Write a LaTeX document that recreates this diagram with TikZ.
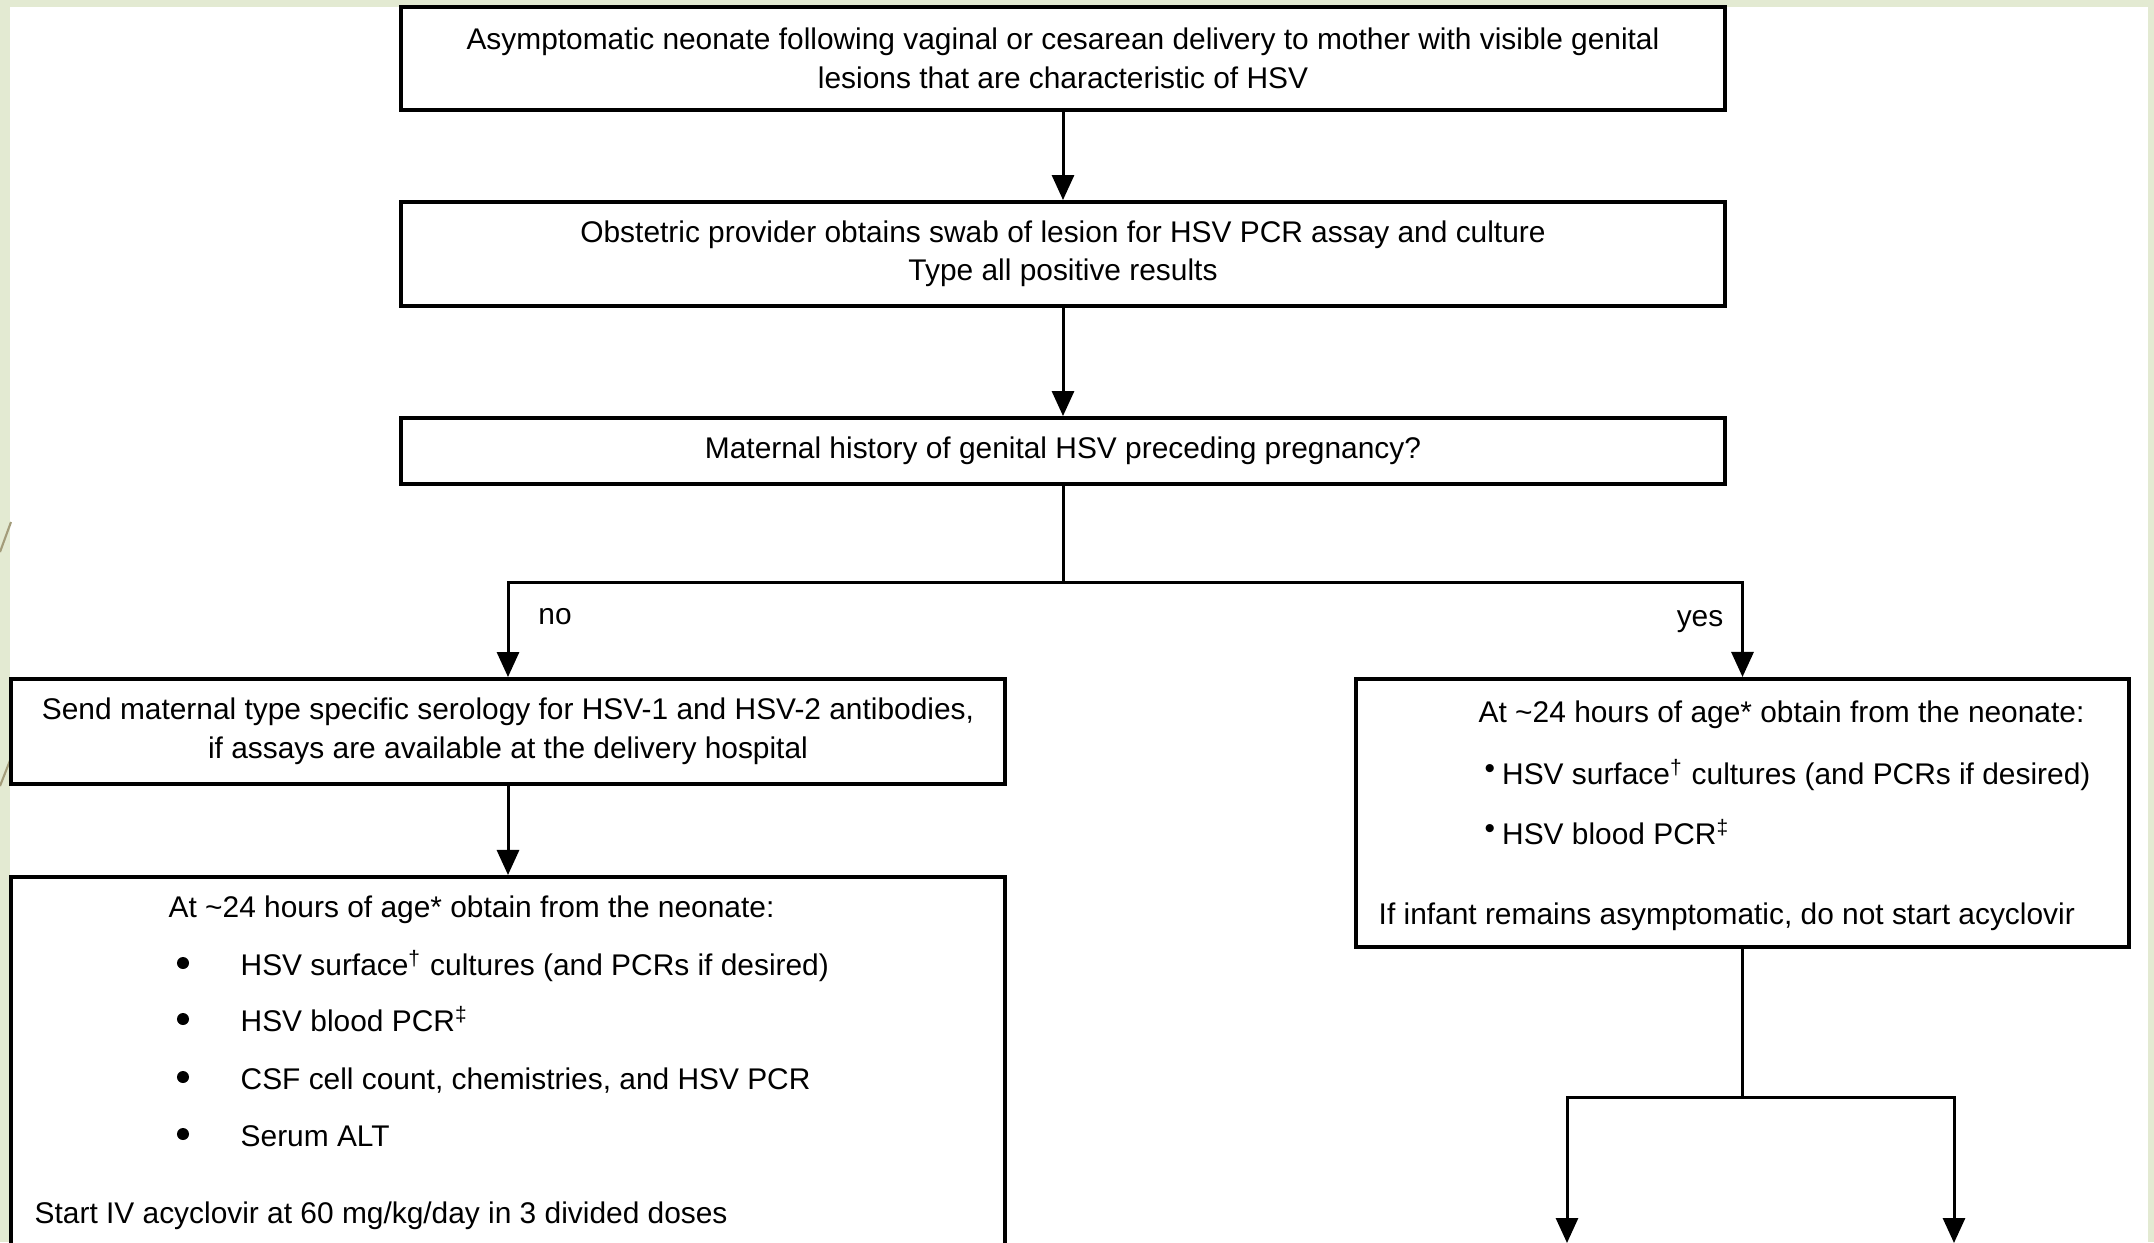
\documentclass[tikz,border=0pt]{standalone}
\usepackage{fontspec}
\setmainfont{Liberation Sans}
\usetikzlibrary{arrows.meta}
\definecolor{slidegreen}{HTML}{E3EAD2}
\definecolor{decoline}{HTML}{A39C7A}
\begin{document}
\begin{tikzpicture}[x=0.01cm,y=-0.01cm,
  every node/.style={font=\fontsize{8.5pt}{10.95pt}\selectfont, inner sep=0pt},
  box/.style={draw, line width=1.1pt, fill=white, align=center},
  conn/.style={line width=0.85pt},
  arr/.style={conn, -{Triangle[width=0.22cm,length=0.25cm]}},
  txt/.style={anchor=mid west},
  bul/.style={circle, fill=black, minimum size=0.12cm},
]
\useasboundingbox (0,0) rectangle (2154,1242);
\clip (0,0) rectangle (2154,1242);
\fill[slidegreen] (0,0) rectangle (2154,1242);
\fill[white] (10,7) rectangle (2148,1250);
\draw[decoline, line width=0.6pt] (11,522) -- (0,552);
\draw[decoline, line width=0.6pt] (11,758) -- (0,786);

% boxes
\node[box, minimum width=13.24cm, minimum height=1.03cm] (b1) at (1063,58.5)
  {Asymptomatic neonate following vaginal or cesarean delivery to mother with visible genital\\lesions that are characteristic of HSV};
\node[box, minimum width=13.24cm, minimum height=1.04cm] (b2) at (1063,254)
  {Obstetric provider obtains swab of lesion for HSV PCR assay and culture\\Type all positive results};
\node[box, minimum width=13.24cm, minimum height=0.66cm] (b3) at (1063,451)
  {Maternal history of genital HSV preceding pregnancy?};
\node[box, minimum width=9.94cm, minimum height=1.05cm] (b4) at (508,731.5)
  {Send maternal type specific serology for HSV-1 and HSV-2 antibodies,\\if assays are available at the delivery hospital};
\node[box, minimum width=7.73cm, minimum height=2.68cm] (b5) at (1742.5,813) {};
\node[box, minimum width=9.94cm, minimum height=5cm, anchor=north] (b6) at (508,875) {};

% box 5 content
\node[txt] (t51) at (1478,713) {At \textasciitilde24 hours of age* obtain from the neonate:};
\node[txt] (t52) at (1484,775) {\raisebox{0.35ex}{•}\hspace{2pt}HSV surface\textsuperscript{†} cultures (and PCRs if desired)};
\node[txt] (t53) at (1484,835) {\raisebox{0.35ex}{•}\hspace{2pt}HSV blood PCR\textsuperscript{‡}};
\node[txt] (t54) at (1378,915) {If infant remains asymptomatic, do not start acyclovir};

% box 6 content
\node[txt] (t61) at (168,908) {At \textasciitilde24 hours of age* obtain from the neonate:};
\node[bul] (u1) at (183,963) {};
\node[txt] (t62) at (240,966) {HSV surface\textsuperscript{†} cultures (and PCRs if desired)};
\node[bul] (u2) at (183,1019) {};
\node[txt] (t63) at (240,1022) {HSV blood PCR\textsuperscript{‡}};
\node[bul] (u3) at (183,1077) {};
\node[txt] (t64) at (240,1080) {CSF cell count, chemistries, and HSV PCR};
\node[bul] (u4) at (183,1134) {};
\node[txt] (t65) at (240,1137) {Serum ALT};
\node[txt] (t66) at (34,1214) {Start IV acyclovir at 60 mg/kg/day in 3 divided doses};

% labels
\node (no) at (555,617) {no};
\node (yes) at (1700,622) {yes};

% connectors
\coordinate (split) at (1063,582);
\coordinate (split2) at (1742.5,1097);
\coordinate (outL) at (1567,1243);
\coordinate (outR) at (1954,1243);
\draw[arr] (b1.south) -- (b2.north);
\draw[arr] (b2.south) -- (b3.north);
\draw[conn] (b3.south) -- (split);
\draw[arr] (split) -| (b4.north);
\draw[arr] (split) -| (b5.north);
\draw[arr] (b4.south) -- (b6.north);
\draw[conn] (b5.south) -- (split2);
\draw[arr] (split2) -| (outL);
\draw[arr] (split2) -| (outR);
\end{tikzpicture}
\end{document}
